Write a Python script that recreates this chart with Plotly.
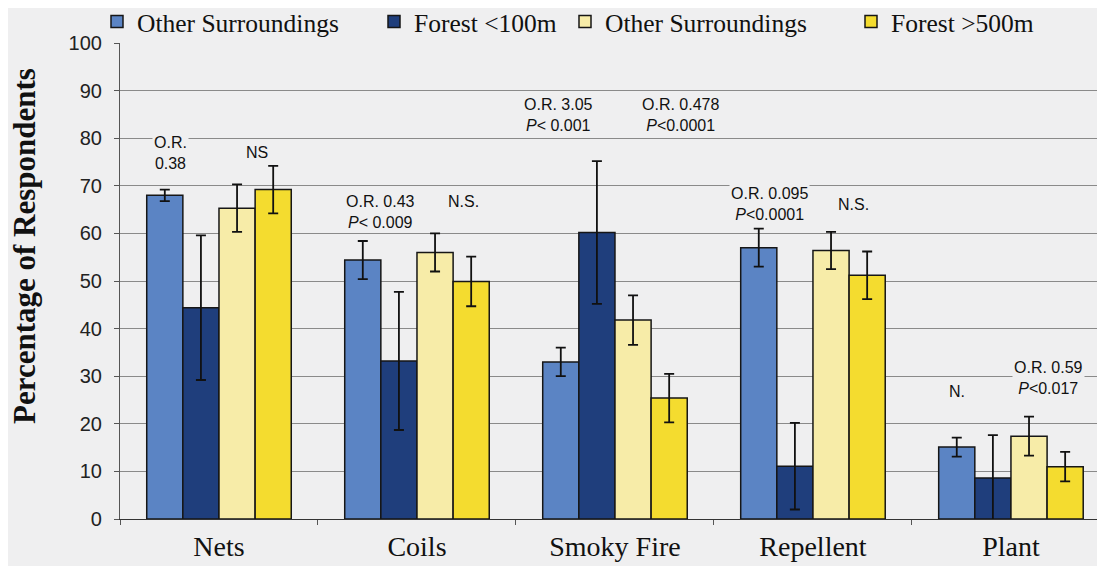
import plotly.graph_objects as go

# ---------------- data ----------------
categories = ["Nets", "Coils", "Smoky Fire", "Repellent", "Plant"]
series_names = ["Other Surroundings", "Forest <100m", "Other Surroundings", "Forest >500m"]

near_other = [68.0, 54.4, 33.0, 57.0, 15.1]
near_other_err = [1.2, 4.0, 3.0, 4.0, 2.0]
forest_100 = [44.4, 33.2, 60.2, 11.1, 8.6]
forest_100_err = [15.2, 14.5, 15.0, 9.1, 9.0]
far_other = [65.3, 56.0, 41.8, 56.4, 17.4]
far_other_err = [5.0, 4.0, 5.2, 3.9, 4.1]
forest_500 = [69.2, 49.9, 25.4, 51.2, 11.0]
forest_500_err = [5.0, 5.2, 5.1, 5.0, 3.1]

y_ticks = [0, 10, 20, 30, 40, 50, 60, 70, 80, 90, 100]
y_title = "Percentage of Respondents"

# statistical notes: (category index, horizontal offset in category units, y value, text)
note_cat = [0, 0, 1, 1, 2, 2, 3, 3, 4, 4]
note_dx = [-0.243, 0.192, -0.182, 0.235, -0.283, 0.329, -0.222, 0.207, -0.273, 0.192]
note_y = [76.9, 76.9, 64.4, 66.6, 84.9, 84.9, 66.2, 66.0, 26.7, 29.6]
note_text = [
    "O.R.<br>0.38", "NS",
    "O.R. 0.43<br><i>P</i>< 0.009", "N.S.",
    "O.R. 3.05<br><i>P</i>< 0.001", "O.R. 0.478<br><i>P</i><0.0001",
    "O.R. 0.095<br><i>P</i><0.0001", "N.S.",
    "N.", "O.R. 0.59<br><i>P</i><0.017",
]

# ---------------- style ----------------
colors = ["#5b84c4", "#1f3e7c", "#f7eca8", "#f4dc2f"]
values = [near_other, forest_100, far_other, forest_500]
errors = [near_other_err, forest_100_err, far_other_err, forest_500_err]
legend_ids = ["legend", "legend2", "legend3", "legend4"]
legend_text_x = [137, 414, 605, 891]   # page x where each legend text starts

OFF = 8                     # default page margin around the figure
W, H = 1105 - OFF, 566 - OFF
PL, PT, PB = 120 - OFF, 43 - OFF, 519 - OFF   # plot box in figure pixels
BG = "#efeff0"

fig = go.Figure()
for name, vals, errs, col, lg in zip(series_names, values, errors, colors, legend_ids):
    fig.add_trace(go.Bar(
        x=categories, y=vals, name=name, legend=lg,
        marker=dict(color=col, line=dict(color="#161616", width=1.5)),
        error_y=dict(type="data", array=errs, visible=True, color="#111111",
                     thickness=1.8, width=5),
    ))

annotations = []
for c, dx, yv, t in zip(note_cat, note_dx, note_y, note_text):
    annotations.append(dict(
        x=c + dx, y=yv, xref="x", yref="y", text=t, showarrow=False,
        font=dict(family="Liberation Sans, Arial, sans-serif", size=16, color="#111111"),
        bgcolor=BG, borderpad=1, align="center",
    ))

# y-axis title (placed as rotated text to match the original's position)
annotations.append(dict(
    text="<b>" + y_title + "</b>", textangle=-90, showarrow=False,
    xref="paper", yref="paper",
    x=(24 - 120) / (W - PL), y=(519 - 246) / (PB - PT),
    xanchor="center", yanchor="middle",
    font=dict(family="Liberation Serif, Times New Roman, serif", size=31, color="#111111"),
))

layout_legends = {}
for lg, tx in zip(legend_ids, legend_text_x):
    layout_legends[lg] = dict(
        x=(tx - OFF - 40) / W, xref="container", xanchor="left",
        y=1 - (22 - OFF) / H, yref="container", yanchor="middle",
        orientation="h", bgcolor="rgba(0,0,0,0)", borderwidth=0,
        font=dict(family="Liberation Serif, Times New Roman, serif", size=25.5, color="#111111"),
    )

fig.update_layout(
    width=W, height=H,
    margin=dict(l=PL, r=0, t=PT, b=H - PB, autoexpand=False),
    paper_bgcolor=BG, plot_bgcolor=BG,
    barmode="group", bargap=0.27, bargroupgap=0.0,
    showlegend=True,
    annotations=annotations,
    xaxis=dict(
        type="category", range=[-0.5, 4.475],
        showline=True, linecolor="#333333", linewidth=1.2,
        ticks="outside", tickson="boundaries", ticklen=5, tickcolor="#555555",
        showgrid=False,
        tickfont=dict(family="Liberation Serif, Times New Roman, serif", size=28, color="#111111"),
        ticklabelstandoff=2,
    ),
    yaxis=dict(
        range=[0, 100], tickvals=y_ticks,
        showline=True, linecolor="#555555", linewidth=1.2,
        ticks="outside", ticklen=5, tickcolor="#555555",
        showgrid=True, gridcolor="#8a8a8a", gridwidth=1,
        zeroline=False,
        tickfont=dict(family="Liberation Sans, Arial, sans-serif", size=20, color="#222222"),
        ticklabelstandoff=8,
    ),
    **layout_legends,
)

fig.write_html("out.html")
